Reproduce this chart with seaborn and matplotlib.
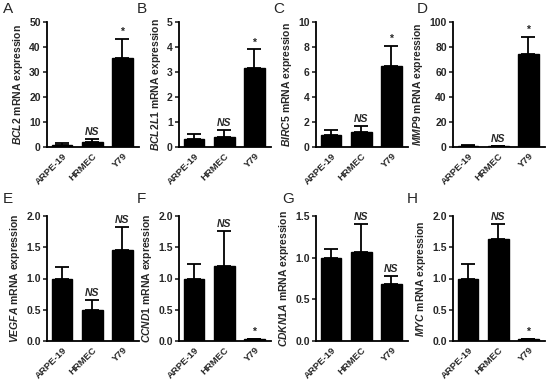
import matplotlib
matplotlib.use("Agg")
import matplotlib.pyplot as plt
import seaborn as sns
import pandas as pd

sns.set_theme(style="ticks")
plt.rcParams['font.family'] = ['Liberation Sans', 'DejaVu Sans']
plt.rcParams['mathtext.fontset'] = 'custom'
plt.rcParams['mathtext.it'] = 'Liberation Sans:italic:bold'
plt.rcParams['mathtext.rm'] = 'Liberation Sans:bold'

cells = ["ARPE-19", "HRMEC", "Y79"]
panel_letters = ["A", "B", "C", "D", "E", "F", "G", "H"]
genes = ["BCL2", "BCL2L1", "BIRC5", "MMP9", "VEGFA", "CCND1", "CDKN1A", "MYC"]

bcl2_mean = [1.0, 2.2, 35.6]
bcl2_err = [0.7, 1.2, 7.8]
bcl2l1_mean = [0.34, 0.40, 3.16]
bcl2l1_err = [0.20, 0.27, 0.74]
birc5_mean = [0.97, 1.19, 6.46]
birc5_err = [0.43, 0.49, 1.62]
mmp9_mean = [1.0, 0.5, 74.5]
mmp9_err = [0.8, 0.3, 13.4]
vegfa_mean = [1.0, 0.50, 1.46]
vegfa_err = [0.18, 0.15, 0.37]
ccnd1_mean = [1.0, 1.20, 0.03]
ccnd1_err = [0.23, 0.56, 0.01]
cdkn1a_mean = [1.0, 1.07, 0.69]
cdkn1a_err = [0.11, 0.33, 0.09]
myc_mean = [1.0, 1.63, 0.03]
myc_err = [0.24, 0.25, 0.01]

means = [bcl2_mean, bcl2l1_mean, birc5_mean, mmp9_mean,
         vegfa_mean, ccnd1_mean, cdkn1a_mean, myc_mean]
errs = [bcl2_err, bcl2l1_err, birc5_err, mmp9_err,
        vegfa_err, ccnd1_err, cdkn1a_err, myc_err]

ymax = [50, 5, 10, 100, 2.0, 2.0, 1.5, 2.0]
yticks = [
    [0, 10, 20, 30, 40, 50],
    [0, 1, 2, 3, 4, 5],
    [0, 2, 4, 6, 8, 10],
    [0, 20, 40, 60, 80, 100],
    [0.0, 0.5, 1.0, 1.5, 2.0],
    [0.0, 0.5, 1.0, 1.5, 2.0],
    [0.0, 0.5, 1.0, 1.5],
    [0.0, 0.5, 1.0, 1.5, 2.0],
]
ytick_fmt = ["{:d}", "{:d}", "{:d}", "{:d}", "{:.1f}", "{:.1f}", "{:.1f}", "{:.1f}"]

# significance marks for HRMEC and Y79
marks = [
    ["", "NS", "*"], ["", "NS", "*"], ["", "NS", "*"], ["", "NS", "*"],
    ["", "NS", "NS"], ["", "NS", "*"], ["", "NS", "NS"], ["", "NS", "*"],
]

W, H = 550, 382
fig = plt.figure(figsize=(W / 100, H / 100), dpi=100)

lefts = [47, 179, 316, 453]
row_tops = [22, 216]
row_bottoms = [147, 341]
axw = 92
letter_pos = [(3, 2), (137, 2), (273, 2), (417, 2),
              (3, 192), (137, 192), (282, 192), (407, 192)]

for i in range(8):
    r, c = divmod(i, 4)
    l = lefts[c]
    t = row_tops[r]
    b = row_bottoms[r]
    ax = fig.add_axes([l / W, 1 - b / H, axw / W, (b - t) / H])
    df = pd.DataFrame({"cell": cells, "value": means[i]})
    sns.barplot(data=df, x="cell", y="value", color="black", width=0.68,
                errorbar=None, ax=ax, edgecolor="black", saturation=1)
    ax.errorbar(range(3), means[i], yerr=[[0, 0, 0], errs[i]], fmt="none",
                ecolor="black", elinewidth=1.3, capsize=5, capthick=1.3)
    ax.set_ylim(0, ymax[i])
    ax.set_xlim(-0.5, 2.55)
    ax.set_yticks(yticks[i])
    ax.set_yticklabels([ytick_fmt[i].format(v) for v in yticks[i]],
                       fontsize=7.5, fontweight="bold")
    ax.set_xticks(range(3))
    ax.set_xticklabels(cells, rotation=45, ha="right", rotation_mode="anchor",
                       fontsize=6.8, fontweight="bold")
    ax.tick_params(axis="x", length=0, pad=3)
    ax.tick_params(axis="y", length=3, width=1.2, pad=1.5)
    ax.set_xlabel("")
    ax.set_ylabel(r"$\mathit{" + genes[i] + r"}$ mRNA expression",
                  fontsize=7.5, fontweight="bold", labelpad=3)
    for s in ["top", "right"]:
        ax.spines[s].set_visible(False)
    for s in ["left", "bottom"]:
        ax.spines[s].set_linewidth(1.3)
        ax.spines[s].set_color("black")
    for j in range(3):
        m = marks[i][j]
        if not m:
            continue
        top = means[i][j] + errs[i][j]
        if m == "NS":
            ax.text(j, top + ymax[i] * 0.015, m, ha="center", va="bottom",
                    fontsize=7.5, fontweight="bold", fontstyle="italic")
        else:
            ax.text(j, top + ymax[i] * 0.015, m, ha="center", va="bottom",
                    fontsize=7.5, fontweight="bold")
    lx, ly = letter_pos[i]
    fig.text(lx / W, 1 - ly / H, panel_letters[i], fontsize=11,
             ha="left", va="top")

fig.savefig("out.png", dpi=100)
